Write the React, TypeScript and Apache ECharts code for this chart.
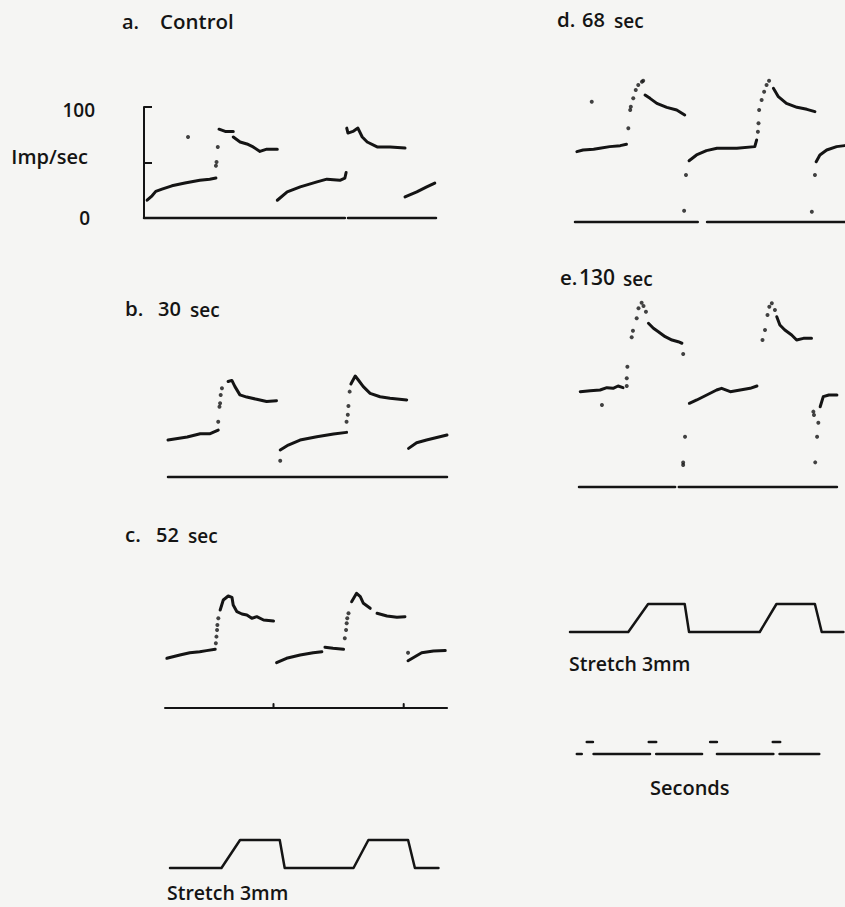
import React, { useEffect, useRef } from "react";
import * as echarts from "echarts";

// ---------- DATA (time in seconds from the start of each trace, rate in Imp/sec, stretch in mm) ----------
const IMP_TICKS = [0, 50, 100];
const IMP_TICK_LABELS = ["0", "Imp/sec", "100"];

const TITLES_A = ["a.", "Control"];
const TITLES_B = ["b.", "30", "sec"];
const TITLES_C = ["c.", "52", "sec"];
const TITLES_D = ["d.", "68", "sec"];
const TITLES_E = ["e.", "130", "sec"];
const STRETCH_LABEL = "Stretch 3mm";
const SECONDS_LABEL = "Seconds";

// a. Control
const aTrace = [
  [[0.05, 16], [0.13, 20], [0.19, 24], [0.29, 26], [0.45, 29], [0.66, 31.5], [0.9, 34], [1.06, 35], [1.16, 36]],
  [[1.21, 80], [1.31, 78], [1.44, 78]],
  [[1.44, 73], [1.55, 68.5], [1.66, 66.7], [1.76, 64], [1.87, 60], [1.98, 62], [2.15, 62]],
  [[2.15, 16], [2.31, 23.5], [2.52, 28], [2.79, 32.5], [2.95, 35], [3.16, 34], [3.24, 36], [3.26, 41]],
  [[3.27, 81], [3.29, 76.5], [3.37, 78], [3.45, 81], [3.52, 73], [3.6, 68.5], [3.76, 64], [3.97, 64], [4.21, 63]],
  [[4.21, 19], [4.4, 23.5], [4.56, 28], [4.69, 31.5]],
];
const aDots = [[1.16, 47], [1.17, 50.5], [1.19, 64], [0.71, 73]];
const aBase = [[[0, 0], [3.24, 0]], [[3.29, 0], [4.71, 0]]];

// b. 30 sec
const bTrace = [
  [[0, 33.3], [0.31, 36], [0.52, 39], [0.68, 39], [0.81, 42.3]],
  [[0.97, 86], [1.03, 87], [1.08, 81.4], [1.16, 74], [1.27, 72], [1.43, 70], [1.59, 68], [1.75, 68.7]],
  [[1.81, 24.3], [1.94, 28.8], [2.13, 33.3], [2.4, 36.3], [2.67, 38.7], [2.88, 40.2]],
  [[2.95, 83.8], [3.02, 91], [3.07, 87.4], [3.15, 81.4], [3.26, 75.4], [3.42, 72.3], [3.58, 70.9], [3.85, 69.4]],
  [[3.88, 25.8], [4.01, 30.9], [4.17, 33.3], [4.5, 37.8]],
];
const bDots = [[0.81, 49.8], [0.83, 63.3], [0.84, 66.4], [0.85, 73.9], [0.87, 79.9], [1.81, 14.7], [2.88, 49.8], [2.9, 56], [2.91, 64], [2.93, 76.9]];
const bBase = [[[0, 0], [4.5, 0]]];

// c. 52 sec
const cTrace = [
  [[0.03, 44.8], [0.24, 47.7], [0.4, 49.8], [0.56, 50.7], [0.67, 51.7], [0.81, 52.9]],
  [[0.89, 88.3], [0.94, 97.3], [1.02, 100.9], [1.08, 99.7], [1.1, 92.8], [1.16, 86.8], [1.24, 84.7], [1.32, 83.8], [1.4, 80.8], [1.48, 82.3], [1.59, 79.3], [1.75, 78.4]],
  [[1.8, 40.8], [1.96, 44.8], [2.18, 47.7], [2.39, 49.8], [2.53, 50.7]],
  [[2.58, 54.7], [2.71, 53.8], [2.88, 52.9]],
  [[3.01, 95.8], [3.09, 103.3], [3.15, 100.3], [3.2, 94.3], [3.31, 89.8]],
  [[3.42, 85.3], [3.58, 82.9], [3.74, 81.7], [3.87, 82.3]],
  [[3.92, 42.6], [4.03, 46.2], [4.14, 49.8], [4.33, 51.4], [4.52, 51.7]],
];
const cDots = [[0.82, 58.3], [0.83, 64.3], [0.84, 70.3], [0.845, 74.8], [0.86, 80.8], [2.9, 62.8], [2.92, 70.3], [2.93, 76.3], [2.94, 80.8], [2.96, 85.3], [3.92, 49.8]];
const cBase = [[[0, 0], [4.55, 0]], [[1.75, 0], [1.75, 3.5]], [[3.85, 0], [3.85, 3.5]]];

// d. 68 sec
const dTrace = [
  [[0.03, 63.4], [0.13, 64.9], [0.3, 65.5], [0.4, 66.4], [0.56, 67.9], [0.73, 68.8], [0.83, 70]],
  [[1.13, 114.4], [1.21, 111.4], [1.32, 106.9], [1.48, 103.3], [1.64, 100.9], [1.77, 96.4]],
  [[1.84, 55.2], [1.96, 60.4], [2.12, 64.3], [2.29, 66.4], [2.61, 66.4], [2.9, 67.9], [2.93, 73.9]],
  [[3.2, 120.4], [3.28, 112.9], [3.41, 106.9], [3.58, 103.3], [3.74, 101.5], [3.87, 99.4]],
  [[3.89, 54.3], [3.95, 60.4], [4.06, 64.9], [4.22, 67.9], [4.35, 68.8]],
];
const dDots = [[0.86, 84.4], [0.89, 100.9], [0.9, 103.9], [0.94, 111.4], [0.98, 118.9], [1.02, 123.4], [1.08, 126.4], [1.1, 127.3], [0.27, 108.4], [1.79, 42.3], [1.76, 10.2], [2.95, 81.4], [2.96, 88.9], [2.97, 100.9], [3.01, 109.9], [3.05, 117.4], [3.09, 123.4], [3.13, 127.3], [3.87, 42.3], [3.82, 9.3]];
const dBase = [[[0, 0], [1.98, 0]], [[2.13, 0], [4.35, 0]]];

// e. 130 sec
const eTrace = [
  [[0.02, 85.9], [0.18, 86.8], [0.34, 87.4], [0.45, 89.5], [0.55, 88.9], [0.63, 91], [0.71, 89.5]],
  [[1.12, 147.5], [1.2, 143], [1.28, 139.9], [1.39, 135.4], [1.5, 132.4], [1.6, 130.9], [1.66, 129.5]],
  [[1.78, 75.4], [1.9, 78.4], [2.06, 82.9], [2.22, 87.4], [2.3, 88.9], [2.44, 85.9], [2.6, 87.4], [2.76, 88.9], [2.87, 91]],
  [[3.19, 153.4], [3.24, 145.9], [3.32, 141.4], [3.43, 136.9], [3.51, 132.4], [3.62, 133.9], [3.75, 133.9]],
  [[3.89, 72.3], [3.94, 81.4], [4.03, 82.9], [4.16, 82.9]],
];
const eDots = [[0.77, 91], [0.77, 97.9], [0.78, 108.4], [0.85, 134.9], [0.87, 140.8], [0.93, 152], [0.96, 161], [1.01, 166], [1.04, 163], [1.08, 157.9], [0.37, 73.9], [1.68, 119.8], [1.71, 45.3], [1.68, 19.8], [1.68, 22], [2.96, 132.4], [3.0, 141.4], [3.04, 155], [3.07, 162.4], [3.11, 165.5], [3.16, 159.5], [3.78, 67.9], [3.79, 64.9], [3.86, 57.9], [3.84, 45.3], [3.81, 22.2]];
const eBase = [[[0, 0], [1.55, 0]], [[1.61, 0], [4.16, 0]]];

// stretch records (mm)
const stretchC = [[0, 0], [0.83, 0], [1.13, 3], [1.77, 3], [1.85, 0], [2.96, 0], [3.2, 3], [3.84, 3], [3.95, 0], [4.33, 0]];
const stretchDE = [[0, 0], [0.94, 0], [1.26, 3], [1.85, 3], [1.92, 0], [3.06, 0], [3.33, 3], [3.95, 3], [4.06, 0], [4.41, 0]];

// seconds marker
const secLine = [[[0.11, 0], [0.19, 0]], [[0.38, 0], [1.29, 0]], [[1.39, 0], [2.13, 0]], [[2.37, 0], [3.28, 0]], [[3.38, 0], [4.02, 0]]];
const secTicks = [[[0.27, 1], [0.37, 1]], [[1.27, 1], [1.39, 1]], [[2.26, 1], [2.37, 1]], [[3.27, 1], [3.39, 1]]];

// ---------- LAYOUT / STYLE ----------
const PX_PER_SEC = 62;
const PX_PER_IMP = 1.11;
const FONT = "Open Sans";
const WEIGHT = 600;
const INK = "#141414";
const BG = "#f5f5f3";

export default function App() {
  const ref = useRef<HTMLDivElement>(null);

  useEffect(() => {
    if (!ref.current) return;
    const chart = echarts.init(ref.current, null, { renderer: "svg" });

    const grids: any[] = [];
    const xAxes: any[] = [];
    const yAxes: any[] = [];
    const series: any[] = [];

    const addGrid = (left: number, zeroY: number, width: number, yMax: number, pxPerUnit: number, yOpts: any = {}) => {
      const idx = grids.length;
      const h = yMax * pxPerUnit;
      grids.push({ left, top: zeroY - h, width, height: h, containLabel: false });
      xAxes.push({ type: "value", gridIndex: idx, min: 0, max: width / PX_PER_SEC, show: false });
      yAxes.push({ type: "value", gridIndex: idx, min: 0, max: yMax, show: false, splitLine: { show: false }, ...yOpts });
      return idx;
    };

    const addLines = (idx: number, segs: number[][][], width: number) => {
      segs.forEach((seg) => {
        series.push({
          type: "line",
          xAxisIndex: idx,
          yAxisIndex: idx,
          data: seg,
          symbol: "none",
          silent: true,
          clip: false,
          lineStyle: { color: INK, width, cap: "round", join: "round" },
        });
      });
    };
    const addDots = (idx: number, pts: number[][]) => {
      series.push({
        type: "scatter",
        xAxisIndex: idx,
        yAxisIndex: idx,
        data: pts,
        symbolSize: 4,
        silent: true,
        itemStyle: { color: INK },
      });
    };

    const lbl = { fontFamily: FONT, fontWeight: WEIGHT, color: INK };

    // panel a with its Imp/sec axis
    const gA = addGrid(144, 218, 292, 100, PX_PER_IMP, {
      show: true,
      interval: 50,
      offset: 42,
      axisLine: { show: true, lineStyle: { color: INK, width: 2 } },
      axisTick: { show: true, inside: true, length: 8, lineStyle: { color: INK, width: 2 } },
      axisLabel: {
        margin: 7,
        formatter: (v: number) => {
          const i = IMP_TICKS.indexOf(v);
          if (i < 0) return "";
          if (i === 1) return `{u|${IMP_TICK_LABELS[i]}}`;
          if (i === 0) return `{z|${IMP_TICK_LABELS[i]}}`;
          return `{n|${IMP_TICK_LABELS[i]}}`;
        },
        rich: {
          n: { ...lbl, fontSize: 19, padding: [6, 0, 0, 0] },
          z: { ...lbl, fontSize: 19, padding: [0, 5, 0, 0] },
          u: { ...lbl, fontSize: 20, padding: [0, 7, 12, 0] },
        },
      },
    });
    addLines(gA, aBase, 2.5);
    addLines(gA, aTrace, 3);
    addDots(gA, aDots);

    const gB = addGrid(168, 477, 279, 100, PX_PER_IMP);
    addLines(gB, bBase, 2.5);
    addLines(gB, bTrace, 3);
    addDots(gB, bDots);

    const gC = addGrid(165, 708, 282, 110, PX_PER_IMP);
    addLines(gC, cBase, 2);
    addLines(gC, cTrace, 3);
    addDots(gC, cDots);

    const gD = addGrid(575, 222, 270, 135, PX_PER_IMP);
    addLines(gD, dBase, 2.5);
    addLines(gD, dTrace, 3);
    addDots(gD, dDots);

    const gE = addGrid(579, 487, 258, 175, PX_PER_IMP);
    addLines(gE, eBase, 2.5);
    addLines(gE, eTrace, 3);
    addDots(gE, eDots);

    const gS1 = addGrid(170, 868, 268, 3, 28 / 3);
    addLines(gS1, [stretchC], 2.5);

    const gS2 = addGrid(570, 632, 274, 3, 28 / 3);
    addLines(gS2, [stretchDE], 2.5);

    const gSec = addGrid(570, 754, 254, 1, 12);
    addLines(gSec, secLine, 2.5);
    addLines(gSec, secTicks, 2.5);

    // text labels
    const txt = (text: string, x: number, y: number, size: number) => ({
      type: "text",
      x,
      y,
      silent: true,
      style: { text, fontFamily: FONT, fontWeight: WEIGHT, fontSize: size, fill: INK, verticalAlign: "middle", align: "left" },
    });
    const graphic: any[] = [
      txt(TITLES_A[0], 122, 21, 20),
      txt(TITLES_A[1], 160, 21, 20.5),
      txt(TITLES_B[0], 125, 308, 20.5),
      txt(TITLES_B[1], 158, 308, 20),
      txt(TITLES_B[2], 190, 310, 19),
      txt(TITLES_C[0], 125, 534, 20.5),
      txt(TITLES_C[1], 156, 534, 20),
      txt(TITLES_C[2], 188, 536, 19),
      txt(TITLES_D[0], 557, 19, 20.5),
      txt(TITLES_D[1], 582, 19, 20),
      txt(TITLES_D[2], 614, 21, 19),
      txt(TITLES_E[0], 560, 277, 20.5),
      txt(TITLES_E[1], 579, 277, 21),
      txt(TITLES_E[2], 623, 279, 19),
      txt(STRETCH_LABEL, 167, 892, 19.5),
      txt(STRETCH_LABEL, 569, 663, 19.5),
      txt(SECONDS_LABEL, 650, 787, 20),
    ];

    chart.setOption({
      animation: false,
      backgroundColor: BG,
      grid: grids,
      xAxis: xAxes,
      yAxis: yAxes,
      series,
      graphic,
    });

    return () => chart.dispose();
  }, []);

  return <div ref={ref} style={{ position: "fixed", left: 0, top: 0, width: 845, height: 907 }} />;
}
